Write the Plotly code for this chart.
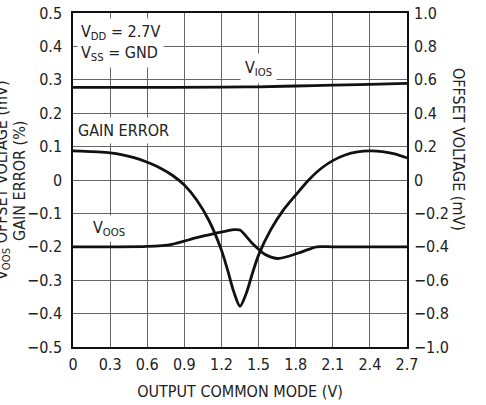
import plotly.graph_objects as go

# ---- data ----
x_ge = [0, 0.1, 0.2, 0.3, 0.4, 0.5, 0.6, 0.7, 0.8, 0.9, 1.0, 1.1, 1.2, 1.25, 1.3, 1.35, 1.4, 1.45, 1.5, 1.6, 1.7, 1.8, 1.9, 2.0, 2.1, 2.2, 2.3, 2.4, 2.5, 2.6, 2.7]
gain_error = [0.087, 0.086, 0.084, 0.081, 0.075, 0.066, 0.053, 0.037, 0.015, -0.015, -0.06, -0.122, -0.21, -0.27, -0.335, -0.378, -0.34, -0.28, -0.225, -0.148, -0.09, -0.045, -0.002, 0.033, 0.058, 0.075, 0.084, 0.087, 0.085, 0.078, 0.066]

x_vios = [0, 0.6, 1.2, 1.5, 1.8, 2.1, 2.4, 2.7]
vios = [0.555, 0.555, 0.556, 0.558, 0.563, 0.568, 0.573, 0.579]

x_voos = [0, 0.3, 0.6, 0.8, 1.0, 1.15, 1.3, 1.35, 1.45, 1.55, 1.65, 1.75, 1.85, 1.97, 2.1, 2.7]
voos = [-0.40, -0.40, -0.398, -0.385, -0.345, -0.32, -0.297, -0.30, -0.38, -0.445, -0.47, -0.455, -0.43, -0.40, -0.40, -0.40]

x_ticks = [0, 0.3, 0.6, 0.9, 1.2, 1.5, 1.8, 2.1, 2.4, 2.7]
x_ticktext = ["0", "0.3", "0.6", "0.9", "1.2", "1.5", "1.8", "2.1", "2.4", "2.7"]
left_ticks = [0.5, 0.4, 0.3, 0.2, 0.1, 0, -0.1, -0.2, -0.3, -0.4, -0.5]
left_ticktext = ["0.5", "0.4", "0.3", "0.2", "0.1", "0", "\u22120.1", "\u22120.2", "\u22120.3", "\u22120.4", "\u22120.5"]
right_ticks = [1.0, 0.8, 0.6, 0.4, 0.2, 0, -0.2, -0.4, -0.6, -0.8, -1.0]
right_ticktext = ["1.0", "0.8", "0.6", "0.4", "0.2", "0", "\u22120.2", "\u22120.4", "\u22120.6", "\u22120.8", "\u22121.0"]

FONT = "DejaVu Sans Condensed, Liberation Sans Narrow, Arial Narrow, sans-serif"
LINE = dict(color="#111111", width=2.8)

fig = go.Figure()
fig.add_trace(go.Scatter(x=x_ge, y=gain_error, mode="lines", line=dict(**LINE, shape="spline", smoothing=0.8),
                         name="GAIN ERROR", yaxis="y"))
fig.add_trace(go.Scatter(x=x_vios, y=vios, mode="lines", line=dict(**LINE, shape="spline"),
                         name="VIOS", yaxis="y2"))
fig.add_trace(go.Scatter(x=x_voos, y=voos, mode="lines", line=dict(**LINE, shape="spline", smoothing=0.7),
                         name="VOOS", yaxis="y2"))

grid = "#666666"
fig.update_layout(
    width=486, height=405,
    margin=dict(l=73, r=79, t=13, b=58),
    paper_bgcolor="white", plot_bgcolor="white",
    showlegend=False,
    font=dict(family=FONT, size=16, color="#222222"),
    xaxis=dict(range=[0, 2.7], tickvals=x_ticks, ticktext=x_ticktext, automargin=False,
               showgrid=True, gridcolor=grid, gridwidth=1.2,
               showline=True, linecolor="#111111", linewidth=1.5, mirror=True,
               zeroline=False, ticks="", ticklen=0, ticklabelstandoff=2,
               title=dict(text="OUTPUT COMMON MODE (V)", font=dict(size=16), standoff=13)),
    yaxis=dict(range=[-0.5, 0.5], tickvals=left_ticks, ticktext=left_ticktext, automargin=False,
               showgrid=True, gridcolor=grid, gridwidth=1.2,
               showline=True, linecolor="#111111", linewidth=1.5, mirror=True,
               zeroline=False, ticks="", ticklen=0, ticklabelstandoff=6),
    yaxis2=dict(range=[-1.0, 1.0], tickvals=right_ticks, ticktext=right_ticktext, automargin=False,
                overlaying="y", side="right", showgrid=False, zeroline=False,
                showline=False, ticks="", ticklabelstandoff=6),
)

plot_w = 486 - 73 - 79
plot_h = 405 - 13 - 58

def px_x(p):
    return (p - 73) / plot_w

def px_y(p):
    return (405 - 58 - p) / plot_h

anns = [
    dict(x=0.012, y=0.985, xref="paper", yref="paper", xanchor="left", yanchor="top",
         text="V<sub>DD</sub> = 2.7V<br>V<sub>SS</sub> = GND", align="left",
         bgcolor="white", borderpad=3, font=dict(size=16), showarrow=False),
    dict(x=1.5, y=0.335, xref="x", yref="y", xanchor="center", yanchor="middle",
         text="V<sub>IOS</sub>", bgcolor="white", borderpad=4, font=dict(size=16), showarrow=False),
    dict(x=0.004, y=0.148, xref="paper", yref="y", xanchor="left", yanchor="middle",
         text="GAIN ERROR", bgcolor="white", borderpad=3, font=dict(size=16), showarrow=False),
    dict(x=0.29, y=-0.145, xref="x", yref="y", xanchor="center", yanchor="middle",
         text="V<sub>OOS</sub>", bgcolor="white", borderpad=2, font=dict(size=16), showarrow=False),
    dict(x=px_x(459), y=px_y(150), xref="paper", yref="paper", xanchor="center", yanchor="middle",
         text="OFFSET VOLTAGE (mV)", textangle=90, font=dict(size=16), showarrow=False),
    dict(x=px_x(19), y=px_y(181), xref="paper", yref="paper", xanchor="center", yanchor="middle",
         text="GAIN ERROR (%)", textangle=-90, font=dict(size=16), showarrow=False),
    dict(x=px_x(2), y=px_y(180), xref="paper", yref="paper", xanchor="center", yanchor="middle",
         text="V<sub>OOS</sub> OFFSET VOLTAGE (mV)", textangle=-90, font=dict(size=16), showarrow=False),
]
fig.update_layout(annotations=anns)

fig.write_html("out.html", config={"displayModeBar": False},
               post_script="document.body.style.margin='0';")
